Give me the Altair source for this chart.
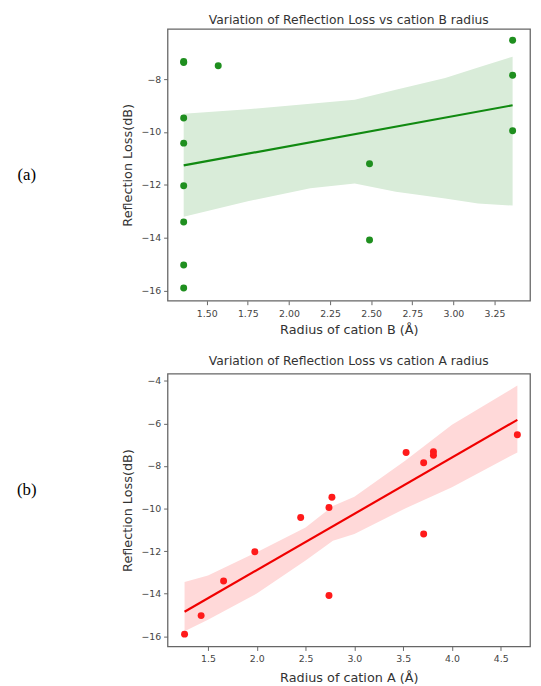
import altair as alt
import pandas as pd

# ---- data ----
radius_a = [1.26, 1.43, 1.66, 1.98, 2.45, 2.74, 2.77, 2.74, 3.53, 3.71, 3.71, 3.81, 3.81, 4.67]
radius_b = [1.36, 1.36, 1.36, 1.36, 1.36, 3.36, 1.36, 2.49, 1.36, 3.36, 2.49, 1.36, 1.57, 3.36]
refl_loss = [-15.90, -15.03, -13.40, -12.03, -10.42, -9.95, -9.47, -14.08, -7.37, -7.85, -11.20, -7.33, -7.49, -6.53]

# confidence bands
band_b_x = [1.36, 1.75, 2.13, 2.40, 2.65, 2.95, 3.15, 3.36]
band_b_hi = [-9.31, -9.14, -8.93, -8.78, -8.40, -7.96, -7.56, -7.15]
band_b_lo = [-13.20, -12.62, -12.13, -11.95, -12.26, -12.51, -12.70, -12.78]

band_a_x = [1.26, 1.50, 2.00, 2.50, 2.78, 3.00, 3.52, 4.00, 4.67]
band_a_hi = [-13.45, -13.14, -12.05, -10.89, -9.88, -9.45, -7.75, -6.06, -4.22]
band_a_lo = [-15.77, -15.23, -13.99, -12.44, -11.51, -11.20, -10.00, -9.00, -7.36]

panel_labels = ["(a)", "(b)"]
titles = ["Variation of Reflection Loss vs cation B radius",
          "Variation of Reflection Loss vs cation A radius"]
x_titles = ["Radius of cation B (Å)", "Radius of cation A (Å)"]
y_title = "Reflection Loss(dB)"

x_ticks_b = [1.50, 1.75, 2.00, 2.25, 2.50, 2.75, 3.00, 3.25]
y_ticks_b = [-16, -14, -12, -10, -8]
x_ticks_a = [1.5, 2.0, 2.5, 3.0, 3.5, 4.0, 4.5]
y_ticks_a = [-16, -14, -12, -10, -8, -6, -4]

pts = pd.DataFrame({"ra": radius_a, "rb": radius_b, "rl": refl_loss})

W = 368


def panel(xcol, band_x, band_hi, band_lo, xdom, ydom, xticks, yticks, xfmt,
          pcolor, lcolor, bcolor, title, xtitle, label, label_y, h, xlpad, xtpad,
          title_dy):
    xs = alt.Scale(domain=xdom, nice=False, zero=False)
    ys = alt.Scale(domain=ydom, nice=False, zero=False)
    xax = alt.Axis(values=xticks, format=xfmt, title=xtitle, titlePadding=xtpad,
                   labelPadding=xlpad)
    yax = alt.Axis(values=yticks, format="d", title=y_title, titlePadding=7,
                   labelPadding=3)
    band_df = pd.DataFrame({"x": band_x, "hi": band_hi, "lo": band_lo})
    band = alt.Chart(band_df).mark_area(color=bcolor, opacity=1).encode(
        x=alt.X("x:Q", scale=xs, axis=xax),
        y=alt.Y("hi:Q", scale=ys, axis=yax),
        y2="lo:Q",
    )
    line = alt.Chart(pts).transform_regression(xcol, "rl").mark_line(
        color=lcolor, strokeWidth=2.2
    ).encode(
        x=alt.X(f"{xcol}:Q", scale=xs),
        y=alt.Y("rl:Q", scale=ys),
    )
    dots = alt.Chart(pts).mark_circle(color=pcolor, opacity=1, size=50).encode(
        x=alt.X(f"{xcol}:Q", scale=xs),
        y=alt.Y("rl:Q", scale=ys),
    )
    lab = alt.Chart(pd.DataFrame({"t": [label]})).mark_text(
        font="Liberation Serif", fontSize=17, color="black", align="center",
        baseline="middle"
    ).encode(x=alt.value(-143), y=alt.value(label_y), text="t:N")
    ttl = alt.Chart(pd.DataFrame({"t": [title]})).mark_text(
        font="DejaVu Sans", fontSize=12.5, color="#333", align="center",
        baseline="middle"
    ).encode(x=alt.value(W / 2), y=alt.value(title_dy), text="t:N")
    return alt.layer(band, line, dots, lab, ttl).properties(width=W, height=h)


top = panel("rb", band_b_x, band_b_hi, band_b_lo, [1.262, 3.466], [-16.38, -6.10],
            x_ticks_b, y_ticks_b, ".2f", "#1f8f1f", "#118a11", "#d9ecd9",
            titles[0], x_titles[0], panel_labels[0], 148, 276, 4, 6, -9)
bottom = panel("ra", band_a_x, band_a_hi, band_a_lo, [1.086, 4.80], [-16.48, -3.66],
               x_ticks_a, y_ticks_a, ".1f", "#ff1a1a", "#f00000", "#ffd9d9",
               titles[1], x_titles[1], panel_labels[1], 118, 277, 3, 9, -13)

chart = alt.vconcat(top, bottom, spacing=16).properties(
    padding={"left": 8, "top": 0, "right": 2, "bottom": 0}
).configure_view(stroke="#666", strokeWidth=1.3).configure_axis(
    grid=False, domain=False, tickColor="#666", tickSize=4,
    labelFont="DejaVu Sans", labelFontSize=9.5, labelColor="#444",
    titleFont="DejaVu Sans", titleFontSize=13, titleFontWeight="normal",
    titleColor="#333",
)

chart.save("out.html", embed_options={"renderer": "svg", "actions": False})
